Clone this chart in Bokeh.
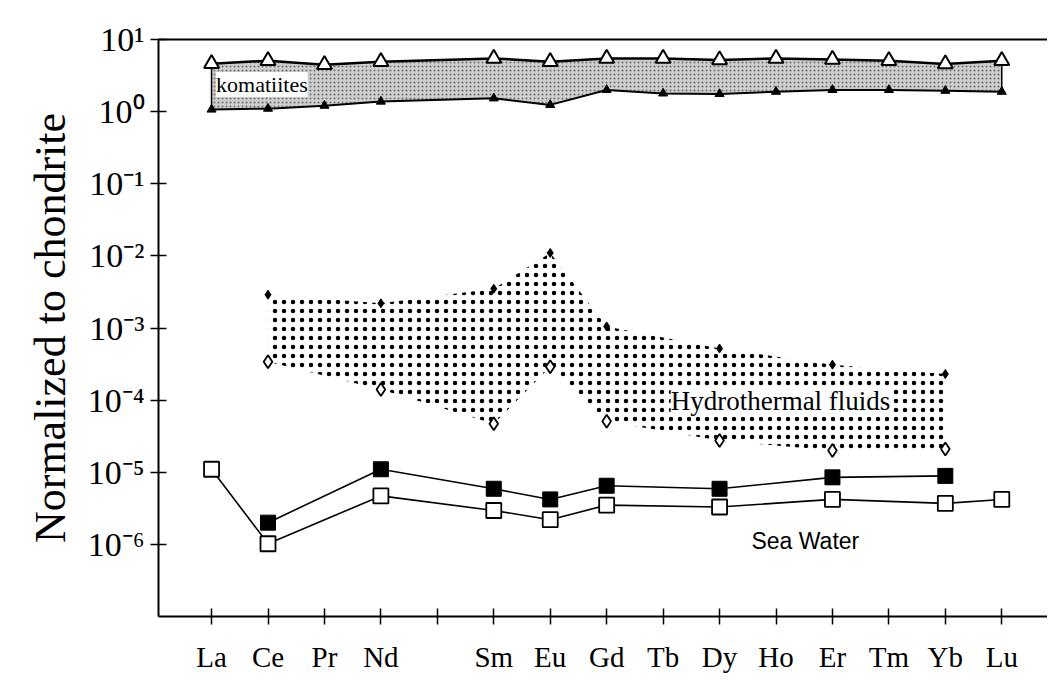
from bokeh.plotting import figure
from bokeh.models import FixedTicker, LinearAxis, Label
from bokeh.embed import file_html
from bokeh.resources import INLINE

# ---- data -------------------------------------------------------------
elements = ["La", "Ce", "Pr", "Nd", "Pm", "Sm", "Eu", "Gd", "Tb", "Dy", "Ho", "Er", "Tm", "Yb", "Lu"]
x_tick_labels = ["La", "Ce", "Pr", "Nd", "", "Sm", "Eu", "Gd", "Tb", "Dy", "Ho", "Er", "Tm", "Yb", "Lu"]

kom_elements = ["La", "Ce", "Pr", "Nd", "Sm", "Eu", "Gd", "Tb", "Dy", "Ho", "Er", "Tm", "Yb", "Lu"]
kom_upper = [4.62, 5.08, 4.48, 4.93, 5.47, 4.93, 5.47, 5.47, 5.20, 5.47, 5.30, 5.08, 4.58, 5.08]
kom_lower = [1.07, 1.10, 1.21, 1.38, 1.53, 1.24, 2.00, 1.79, 1.76, 1.89, 2.00, 2.00, 1.95, 1.89]

hyd_elements = ["Ce", "Nd", "Sm", "Eu", "Gd", "Dy", "Er", "Yb"]
hyd_upper = [2.9e-3, 2.2e-3, 3.5e-3, 1.1e-2, 1.05e-3, 5.2e-4, 3.1e-4, 2.3e-4]
hyd_lower = [3.4e-4, 1.4e-4, 4.7e-5, 2.9e-4, 5.1e-5, 2.75e-5, 2.0e-5, 2.1e-5]

sw_open_elements = ["La", "Ce", "Nd", "Sm", "Eu", "Gd", "Dy", "Er", "Yb", "Lu"]
sw_open = [1.1e-5, 1.02e-6, 4.7e-6, 2.95e-6, 2.2e-6, 3.5e-6, 3.3e-6, 4.2e-6, 3.7e-6, 4.2e-6]
sw_filled_elements = ["Ce", "Nd", "Sm", "Eu", "Gd", "Dy", "Er", "Yb"]
sw_filled = [2.0e-6, 1.1e-5, 5.9e-6, 4.2e-6, 6.5e-6, 5.9e-6, 8.5e-6, 8.9e-6]

y_ticks = [1e-6, 1e-5, 1e-4, 1e-3, 1e-2, 1e-1, 1e0, 1e1]
y_tick_labels = ["10\u207b\u2076", "10\u207b\u2075", "10\u207b\u2074", "10\u207b\u00b3",
                 "10\u207b\u00b2", "10\u207b\u00b9", "10\u2070", "10\u00b9"]

y_label = "Normalized to chondrite"
kom_text = "komatiites"
hyd_text = "Hydrothermal fluids"
sw_text = "Sea Water"

# ---- helpers ----------------------------------------------------------
def xs(names):
    return [elements.index(n) for n in names]

SERIF = "Liberation Serif"

p = figure(width=1047, height=676, y_axis_type="log",
           x_range=(-0.94, 14.81), y_range=(1e-7, 1e1),
           output_backend="svg", toolbar_location=None,
           min_border_left=158, min_border_right=0,
           min_border_top=39, min_border_bottom=60)
p.grid.visible = False
p.outline_line_color = None
p.background_fill_color = "white"
p.border_fill_color = "white"

# x axis
xa = p.xaxis[0]
xa.ticker = FixedTicker(ticks=list(range(len(elements))))
xa.major_label_overrides = {i: t for i, t in enumerate(x_tick_labels)}
xa.major_tick_in = 8
xa.major_tick_out = 8
xa.minor_tick_line_color = None
xa.axis_line_width = 2
xa.major_tick_line_width = 1.5
xa.major_label_text_font = SERIF
xa.major_label_text_font_size = "29px"
xa.major_label_text_color = "black"
xa.major_label_standoff = 16

# y axis
ya = p.yaxis[0]
ya.ticker = FixedTicker(ticks=y_ticks)
ya.major_label_overrides = {v: t for v, t in zip(y_ticks, y_tick_labels)}
ya.major_tick_in = 8
ya.major_tick_out = 8
ya.minor_tick_line_color = None
ya.axis_line_width = 2
ya.major_tick_line_width = 1.5
ya.major_label_text_font = SERIF
ya.major_label_text_font_size = "34px"
ya.major_label_text_color = "black"
ya.major_label_standoff = 6
ya.axis_label = y_label
ya.axis_label_text_font = SERIF
ya.axis_label_text_font_size = "44px"
ya.axis_label_text_font_style = "normal"
ya.axis_label_text_color = "black"
ya.axis_label_standoff = 10

# top frame line only (no right border in the reference)
top = LinearAxis(ticker=FixedTicker(ticks=[]), axis_line_width=2,
                 major_tick_line_color=None, minor_tick_line_color=None,
                 major_label_text_font_size="0px")
p.add_layout(top, "above")

# ---- komatiites band ---------------------------------------------------
kx = xs(kom_elements)
p.varea(x=kx, y1=kom_lower, y2=kom_upper, fill_color="#cfcfcf",
        hatch_pattern=".", hatch_color="#6e6e6e", hatch_scale=4, hatch_weight=0.7)
p.line(kx, kom_upper, line_color="black", line_width=2.5)
p.line(kx, kom_lower, line_color="black", line_width=2)
p.segment(x0=[kx[0], kx[-1]], y0=[kom_lower[0], kom_lower[-1]],
          x1=[kx[0], kx[-1]], y1=[kom_upper[0], kom_upper[-1]],
          line_color="black", line_width=1.5)
p.scatter(kx, kom_lower, marker="triangle", size=9, fill_color="black", line_color="black")
p.scatter(kx, kom_upper, marker="triangle", size=15, fill_color="white",
          line_color="black", line_width=2)
p.add_layout(Label(x=0.08, y=2.37, text=kom_text, text_font=SERIF, text_font_size="22px",
                   text_color="black", text_baseline="middle", text_align="left",
                   background_fill_color="white"))

# ---- hydrothermal fluids band -----------------------------------------
hx = xs(hyd_elements)
p.varea(x=hx, y1=hyd_lower, y2=hyd_upper, fill_color=None,
        hatch_pattern=".", hatch_color="black", hatch_scale=9, hatch_weight=1.3)
p.scatter(hx, hyd_upper, marker="diamond", size=9, fill_color="black", line_color="black")
p.scatter(hx, hyd_lower, marker="diamond", size=13, fill_color="white",
          line_color="black", line_width=1.8)
p.add_layout(Label(x=10.08, y=9.6e-5, text=hyd_text, text_font=SERIF, text_font_size="27px",
                   text_color="black", text_baseline="middle", text_align="center",
                   background_fill_color="white"))

# ---- sea water ---------------------------------------------------------
ox = xs(sw_open_elements)
fx = xs(sw_filled_elements)
p.line(ox, sw_open, line_color="black", line_width=1.6)
p.line(fx, sw_filled, line_color="black", line_width=1.6)
p.scatter(fx, sw_filled, marker="square", size=15, fill_color="black", line_color="black")
p.scatter(ox, sw_open, marker="square", size=15, fill_color="white",
          line_color="black", line_width=1.8)
p.add_layout(Label(x=10.52, y=1.1e-6, text=sw_text, text_font="Liberation Sans",
                   text_color="black", text_font_size="23px", text_baseline="middle",
                   text_align="center"))

open("out.html", "w").write(file_html(p, INLINE))
